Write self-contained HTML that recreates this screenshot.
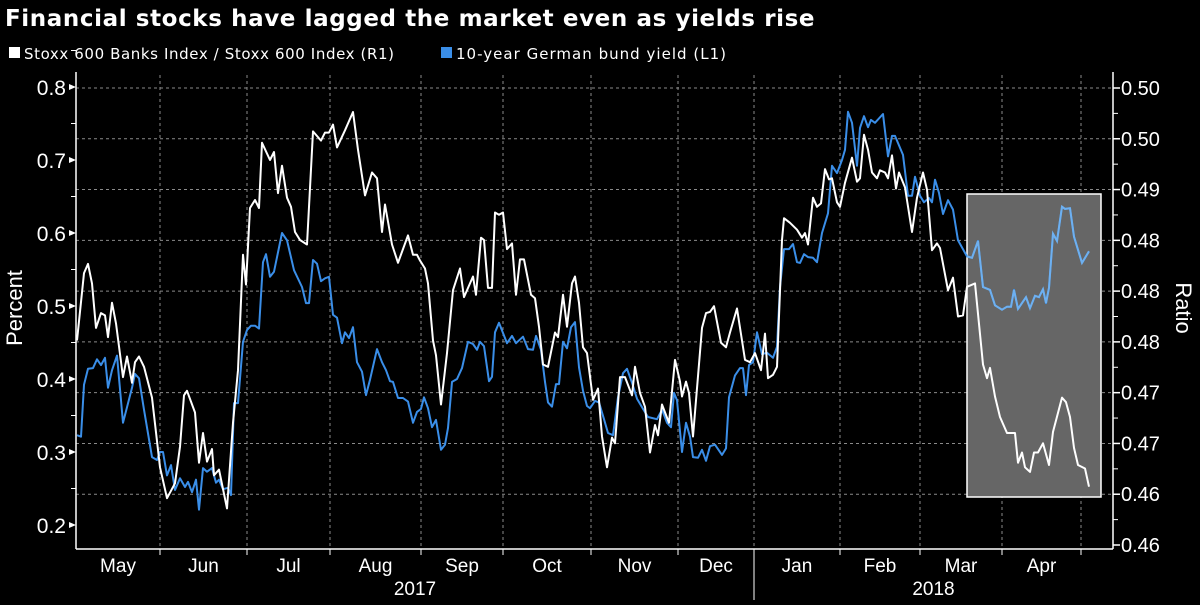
<!DOCTYPE html>
<html><head><meta charset="utf-8"><style>
body{margin:0;background:#000;width:1200px;height:600px;overflow:hidden;font-family:"Liberation Sans",sans-serif;}
</style></head><body>
<svg id="chart" width="1200" height="600" xmlns="http://www.w3.org/2000/svg">
<rect x="0" y="0" width="1200" height="600" fill="#000"/>
<text x="5" y="26" fill="#fff" font-size="23" font-weight="bold" letter-spacing="0.6" font-family="DejaVu Sans, sans-serif">Financial stocks have lagged the market even as yields rise</text>
<g font-family="DejaVu Sans, sans-serif" font-size="15" fill="#fff">
<rect x="9" y="47" width="11" height="11" fill="#fff"/>
<text x="24" y="59" textLength="370">Stoxx 600 Banks Index / Stoxx 600 Index  (R1)</text>
<rect x="441" y="47" width="11" height="11" fill="#3a8ee8"/>
<text x="456" y="59" textLength="270">10-year German bund yield (L1)</text>
</g>
<g id="grid"></g>
<rect x="967" y="194" width="134" height="303" fill="#666" stroke="#fff" stroke-width="1.5"/>
<g id="series"></g>
<g id="axes"></g>
<text transform="translate(22,308) rotate(-90)" text-anchor="middle" fill="#fff" font-size="22">Percent</text>
<text transform="translate(1176,308) rotate(90)" text-anchor="middle" fill="#fff" font-size="22">Ratio</text>
</svg>
<script>
const leftTicks=[0.2,0.3,0.4,0.5,0.6,0.7,0.8];
const rightTickVals=[0.46,0.464444,0.468889,0.473333,0.477778,0.482222,0.486667,0.491111,0.495556,0.5];
const rightTickLabels=["0.46","0.46","0.47","0.47","0.48","0.48","0.48","0.49","0.50","0.50"];
const monthBounds=[0,21,42.75,63.5,86.25,106.75,128.75,150.5,169.5,191,211,231.5,251.25];
const monthLabels=["May","Jun","Jul","Aug","Sep","Oct","Nov","Dec","Jan","Feb","Mar","Apr"];
const yearLabels=["2017","2018"];
const yearBounds=[0,169.5,259.25];
const banksT=[0.25,2,3,4,5,6.25,7.25,8,9,10,11.75,12.75,14,14.75,15.75,17,19,21,22.75,24.75,26,27,27.75,29.75,30.75,31.75,32.75,34,34.5,35.75,37.75,39.25,40.5,41.75,42.5,43.5,44.75,45.75,46.5,48.5,49.5,50.5,51.5,52.75,53.75,54.75,56,57.75,59.25,61.25,62.25,63.25,64.25,65.25,67.25,69.25,70.5,72.25,74,75.25,76.5,77.25,79,80.5,83,84.25,85.25,86,87.25,88,89.25,90,91.25,92.75,94.25,96,97,99.25,100,101.25,102,103,104,104.75,105.75,106.75,107.75,109,110,111,112,113.75,114.75,115.75,116.75,118,119.75,120.5,121.75,122.75,124,124.75,125.75,126.75,127.75,129.25,130.5,131.5,132.75,134,134.75,136,137.25,139,139.75,141,142.25,143.5,144.75,145.5,146.5,148.25,149.75,151,151.5,152.5,153.25,154.25,156.5,157.5,158.5,159.5,161.25,162.5,163.5,165.25,167.25,168.5,169.75,171.25,172.25,173,174.25,175.25,176.5,177,178.5,180.25,181.5,182.25,183,184.25,185.25,186.25,187.25,188.25,189,190.25,191,192.25,194,195.25,196,197,198,199,200.25,201,202.25,203,204,205,205.75,207.25,209,210.25,211.75,212.75,214,215.25,216,218,219.25,220.5,221.75,222.75,224.75,226.75,227.75,228.5,229.75,231,232.75,234.75,235.5,236.5,237.25,238.5,239.5,240.5,241.75,243.25,244.25,246.5,247.5,248.5,249.5,250.5,252.25,253.25];
const banksV=[.4779,.4838,.4846,.4829,.4790,.4803,.4801,.4782,.4812,.4794,.4747,.4765,.4742,.4760,.4765,.4756,.4729,.4668,.4641,.4654,.4686,.4731,.4735,.4716,.4672,.4698,.4673,.4684,.4661,.4666,.4632,.4707,.4753,.4854,.4828,.4895,.4902,.4895,.4952,.4937,.4944,.4908,.4932,.4904,.4896,.4874,.4867,.4863,.4962,.4954,.4961,.4961,.4968,.4948,.4963,.4979,.4946,.4906,.4926,.4921,.4874,.4898,.4863,.4847,.4871,.4854,.4854,.4849,.4842,.4829,.4779,.4766,.4723,.4768,.4823,.4842,.4817,.4835,.4819,.4869,.4867,.4825,.4825,.4891,.4889,.4891,.4859,.4864,.4819,.4850,.4850,.4819,.4816,.4791,.4758,.4756,.4786,.4782,.4819,.4791,.4829,.4835,.4812,.4773,.4768,.4727,.4737,.4695,.4668,.4694,.4689,.4747,.4747,.4731,.4756,.4733,.4721,.4681,.4705,.4696,.4723,.4707,.4762,.4743,.4730,.4743,.4733,.4695,.4790,.4803,.4804,.4809,.4777,.4773,.4786,.4807,.4762,.4760,.4768,.4753,.4785,.4746,.4749,.4756,.4867,.4886,.4882,.4876,.4869,.4873,.4863,.4904,.4896,.4899,.4929,.4920,.4921,.4900,.4896,.4917,.4939,.4918,.4921,.4959,.4946,.4926,.4921,.4928,.4926,.4921,.4941,.4912,.4926,.4913,.4874,.4904,.4926,.4911,.4858,.4864,.4860,.4823,.4834,.4800,.4801,.4826,.4829,.4758,.4746,.4755,.4730,.4712,.4698,.4698,.4672,.4681,.4668,.4664,.4681,.4681,.4689,.4670,.4699,.4729,.4725,.4712,.4685,.4670,.4667,.4651];
const bundT=[0.25,1.25,2,3,4.25,5.25,6.25,7.25,8,9,10.25,11.75,14,14.75,15.75,17,19,20.25,21,21.75,22.75,23.75,24.75,26,27.25,28,29,30,30.75,31.75,32.75,34,35,35.75,36.75,38,38.75,39.5,40.5,41.75,42.75,43.75,44.75,45.75,46.75,47.5,48.5,49.5,51.5,52.75,54.5,56.5,57.5,58.25,59.25,60.25,61.25,62.25,63.25,64.25,65.25,66.5,67.25,68.25,69.25,70.25,71.5,72.5,73.5,75.25,76.5,77.5,78.5,79.25,80.5,81.75,83,84.25,85.25,86.25,87,88,89,90,91.25,92.25,93,94,95.25,96.5,98,99.25,100.25,101,102,103.25,104,104.75,105.75,107.75,109,110,111.75,113,114.25,115,116.25,117.25,118,119,120,120.75,121.75,122.75,123.75,124.75,125.75,126.75,127.75,128.5,129.75,130.75,132,133,134.25,135.5,136.75,137.75,139,140.25,141.75,143,145.25,146.5,147.75,148.75,149.5,150.25,151.5,152.5,153.5,154.25,155.5,156.5,157.5,158.5,159.75,161.5,162.5,163.25,164.75,166,166.75,167.5,168.25,169.25,170.25,171.5,172.75,174.25,175.25,176,177,178.25,179.25,180.25,181,182,183,184.25,185.25,186.5,188,189,190.25,191.5,192.25,193,194,195.25,196,197,198,198.75,199.75,201.75,203,204,204.75,206.75,208,209,209.75,211,212,213.25,214,214.75,215.75,216.75,218,219.25,220.5,222.75,224,225.5,226.75,228.5,229.75,231.5,232.75,233.75,234.5,235.5,237.5,238.5,239.75,240.75,241.75,242.5,243.25,244.25,245.25,246.5,247.25,248.5,249.5,251.5,253.25];
const bundV=[.323,.321,.392,.414,.415,.427,.419,.429,.388,.412,.432,.340,.388,.407,.401,.358,.293,.289,.300,.300,.268,.282,.248,.264,.252,.259,.245,.262,.221,.278,.273,.278,.258,.262,.249,.251,.241,.367,.367,.451,.467,.473,.473,.469,.560,.571,.540,.547,.600,.590,.549,.526,.504,.504,.563,.558,.534,.538,.540,.488,.484,.449,.464,.456,.471,.423,.410,.378,.399,.441,.423,.412,.397,.396,.374,.374,.369,.340,.355,.359,.375,.360,.334,.344,.303,.310,.333,.396,.400,.415,.451,.448,.440,.451,.445,.397,.403,.464,.477,.449,.459,.449,.458,.441,.440,.459,.440,.396,.368,.362,.393,.393,.451,.442,.471,.478,.416,.384,.363,.360,.370,.368,.345,.326,.323,.375,.408,.414,.395,.373,.359,.348,.345,.358,.340,.334,.381,.371,.300,.340,.321,.293,.292,.303,.288,.308,.310,.296,.305,.375,.405,.415,.415,.378,.419,.423,.464,.434,.436,.429,.444,.526,.578,.578,.585,.560,.559,.571,.567,.566,.560,.600,.627,.692,.682,.700,.714,.766,.751,.692,.744,.760,.745,.755,.751,.763,.705,.733,.733,.707,.651,.651,.677,.651,.642,.648,.642,.673,.655,.626,.645,.632,.590,.568,.566,.589,.526,.522,.501,.495,.499,.499,.522,.496,.512,.497,.514,.512,.523,.504,.525,.599,.589,.636,.633,.634,.595,.559,.575];

const NS="http://www.w3.org/2000/svg";
const X0=76,X1=1113,TMAX=259.25;
function xS(t){return X0+(t/TMAX)*(X1-X0);}
function yL(v){return 87+(0.8-v)*730;}
function yR(v){return 545-(v-0.46)*11425;}
function mk(tag,attrs,parent){const e=document.createElementNS(NS,tag);for(const k in attrs)e.setAttribute(k,attrs[k]);parent.appendChild(e);return e;}
const grid=document.getElementById('grid'),axes=document.getElementById('axes'),series=document.getElementById('series');

rightTickVals.forEach((v,i)=>{
  const y=yR(v);
  if(i>0){const g=mk('line',{x1:X0,x2:X1,y1:y,y2:y,stroke:'#8a8a8a','stroke-width':1,'stroke-dasharray':'3,3'},grid);
  
  }
  const t=mk('line',{x1:X1,x2:X1+7,y1:y,y2:y,stroke:'#fff','stroke-width':1.5},axes);
  
  
  const lb=mk('text',{x:X1+8,y:y+7,fill:'#fff','font-size':20},axes);lb.textContent=rightTickLabels[i];
  
  
  if(i<rightTickVals.length-1){const ym=yR(v+0.0022222);const m=mk('line',{x1:X1,x2:X1+5,y1:ym,y2:ym,stroke:'#fff','stroke-width':1},axes);
  
  }
});
monthBounds.forEach((t,i)=>{
  const x=xS(t);
  if(i>0){const g=mk('line',{x1:x,x2:x,y1:75,y2:549,stroke:'#8a8a8a','stroke-width':1,'stroke-dasharray':'3,3'},grid);
  
  
  const tk=mk('line',{x1:x,x2:x,y1:549,y2:555,stroke:'#fff','stroke-width':1},axes);
  
  }
  if(i<monthLabels.length){const lb=mk('text',{x:(xS(t)+xS(monthBounds[i+1]))/2,y:572,fill:'#fff','font-size':19,'text-anchor':'middle'},axes);lb.textContent=monthLabels[i];
  
  }
});
yearLabels.forEach((s,i)=>{
  const lb=mk('text',{x:(xS(yearBounds[i])+xS(yearBounds[i+1]))/2,y:595,fill:'#fff','font-size':19,'text-anchor':'middle'},axes);lb.textContent=s;
  
  
});
const yd=mk('line',{x1:xS(yearBounds[1]),x2:xS(yearBounds[1]),y1:549,y2:600,stroke:'#fff','stroke-width':1},axes);


leftTicks.forEach((v,i)=>{
  const y=yL(v);
  const t=mk('path',{d:`M${X0} ${y} l-7 -3 v6 z`,fill:'#fff'},axes);
  
  
  const lb=mk('text',{x:66,y:y+8,fill:'#fff','font-size':21,'text-anchor':'end'},axes);lb.textContent=v.toFixed(1);
  
  
  const ym=yL(v+0.05);const m=mk('line',{x1:X0-5,x2:X0,y1:ym,y2:ym,stroke:'#fff','stroke-width':1},axes);
  
  
});
const la=mk('line',{x1:X0,x2:X0,y1:72,y2:549,stroke:'#fff','stroke-width':1.5},axes);


const ra=mk('line',{x1:X1,x2:X1,y1:72,y2:549,stroke:'#fff','stroke-width':1.5},axes);


const ba=mk('line',{x1:X0,x2:X1,y1:549,y2:549,stroke:'#fff','stroke-width':1.5},axes);



const cp=mk('clipPath',{id:'boxclip'},series);mk('rect',{x:967,y:194,width:134,height:303},cp);
const bd=bundT.map((t,i)=>(i?'L':'M')+xS(t).toFixed(1)+' '+yL(bundV[i]).toFixed(1)).join(' ');
const bl=mk('path',{d:bd,fill:'none',stroke:'#3a8ee8','stroke-width':2,'stroke-linejoin':'round'},series);


const bl2=mk('path',{d:bd,fill:'none',stroke:'#6eb0f0','stroke-width':2,'clip-path':'url(#boxclip)'},series);


const wd=banksT.map((t,i)=>(i?'L':'M')+xS(t).toFixed(1)+' '+yR(banksV[i]).toFixed(1)).join(' ');
const wl=mk('path',{d:wd,fill:'none',stroke:'#fff','stroke-width':2,'stroke-linejoin':'round'},series);


</script>
</body></html>
